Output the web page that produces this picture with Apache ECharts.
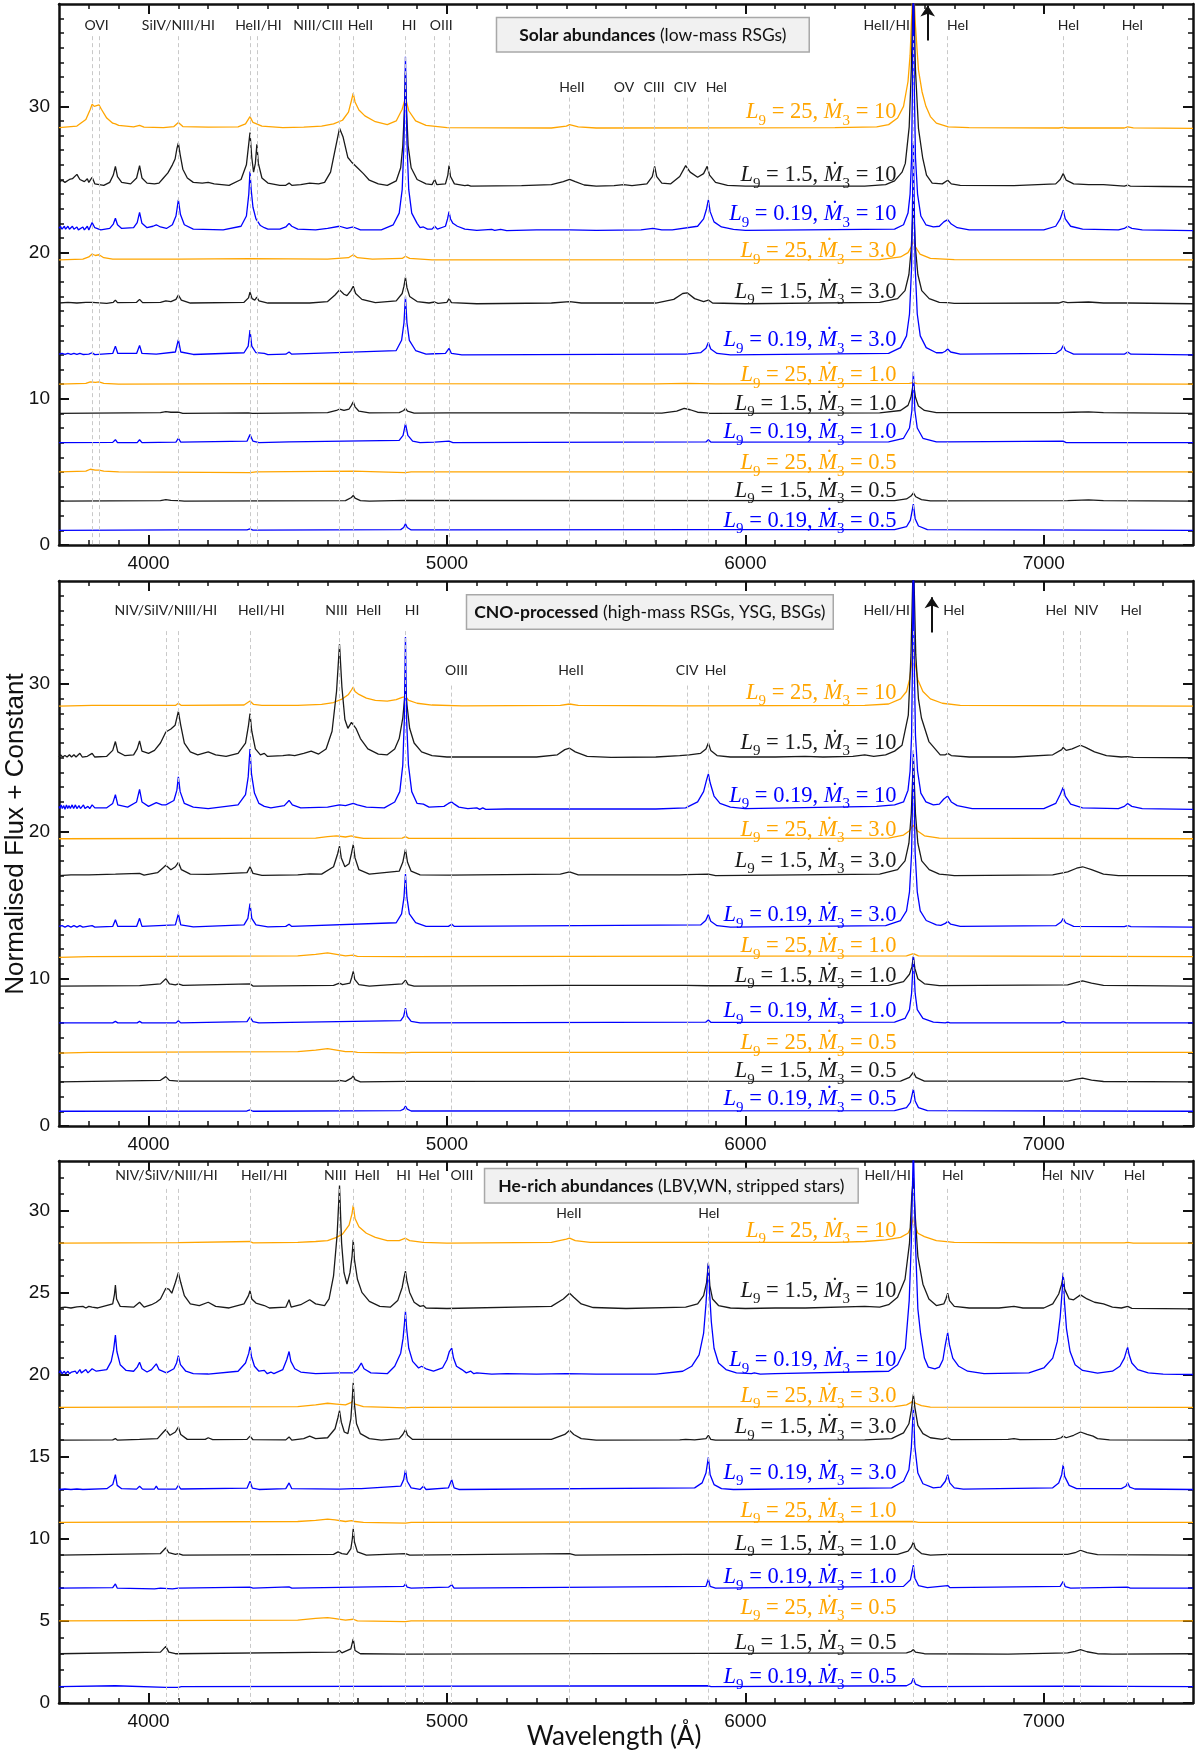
<!DOCTYPE html>
<html><head><meta charset="utf-8">
<script src="https://cdn.jsdelivr.net/npm/echarts@6/dist/echarts.min.js"></script>
<style>html,body{margin:0;padding:0;background:#fff}#c{width:1200px;height:1756px}</style>
</head><body><div id="c"></div>
<script>
// ---------- tick labels ----------
const xMajor = [4000, 5000, 6000, 7000];
const yMajor12 = [0, 10, 20, 30];
const yMajor3 = [0, 5, 10, 15, 20, 25, 30];
const L9 = ['25', '1.5', '0.19'];
const Mdot = ['10', '3.0', '1.0', '0.5'];
const colors = ['#FFA500', '#1a1a1a', '#0000FF'];

// ---------- vertical offsets (the "Constant") ----------
const baseSolar = [28.5, 24.5, 21.5, 19.5, 16.5, 13, 11, 9, 7, 5, 3, 1];
const baseCNO = [28.5, 25, 21.5, 19.5, 17, 13.5, 11.5, 9.5, 7, 5, 3, 1];
const baseHe = [28, 24, 20, 18, 16, 13, 11, 9, 7, 5, 3, 1];

// ---------- Solar abundances spectra (excess flux above offset) ----------
const solar_25_10 = [[3700,0.05],[3760,0.15],[3790,0.6],[3805,1.3],[3811,1.65],[3818,1.5],[3824,1.45],[3834,1.6],[3842,1.3],[3860,0.7],[3880,0.35],[3889,0.3],[3900,0.2],[3950,0.1],[3970,0.2],[3985,0.08],[4050,0.05],[4085,0.12],[4100,0.4],[4115,0.12],[4200,0.08],[4300,0.1],[4325,0.3],[4340,0.8],[4350,0.4],[4380,0.15],[4450,0.05],[4520,0.08],[4580,0.15],[4620,0.3],[4650,0.55],[4670,1.1],[4680,1.9],[4686,2.4],[4692,1.8],[4705,1.25],[4725,0.85],[4760,0.45],[4800,0.25],[4830,0.5],[4850,1.3],[4861,2.1],[4872,1.2],[4895,0.5],[4930,0.2],[5000,0.05],[5350,0.02],[5400,0.15],[5411,0.25],[5440,0.1],[5500,0.02],[6300,0.05],[6440,0.1],[6480,0.25],[6510,0.7],[6530,1.5],[6545,3.2],[6552,5],[6558,8],[6563,10],[6570,7],[6580,4],[6592,2.5],[6605,1.5],[6620,0.8],[6640,0.35],[6680,0.1],[6750,0.05],[7050,0.02],[7065,0.06],[7080,0.02],[7270,0.02],[7281,0.1],[7300,0.03],[7500,0]];
const solar_15_10 = [[3700,0.3],[3710,0.45],[3720,0.3],[3735,0.5],[3745,0.55],[3760,0.85],[3770,0.5],[3785,0.35],[3795,0.55],[3800,0.3],[3811,0.65],[3820,0.2],[3850,0.1],[3870,0.3],[3882,0.8],[3889,1.4],[3896,0.7],[3910,0.3],[3940,0.2],[3960,0.6],[3970,1.45],[3978,0.6],[3995,0.25],[4020,0.2],[4026,0.3],[4035,0.25],[4050,0.6],[4065,0.95],[4080,1.5],[4089,1.9],[4095,2.6],[4100,3.0],[4106,2.2],[4115,1.2],[4130,0.6],[4150,0.3],[4180,0.25],[4200,0.3],[4220,0.2],[4270,0.1],[4310,0.5],[4328,1.5],[4340,3.7],[4346,2.0],[4352,1.0],[4358,1.6],[4363,2.9],[4368,1.6],[4380,0.6],[4400,0.25],[4440,0.1],[4460,0.1],[4471,0.25],[4480,0.1],[4510,0.15],[4540,0.25],[4570,0.2],[4590,0.3],[4610,1.0],[4625,2.5],[4640,4.0],[4652,3.4],[4668,2.0],[4680,1.7],[4686,1.8],[4700,1.3],[4720,0.9],[4740,0.45],[4770,0.2],[4800,0.1],[4830,0.4],[4845,1.3],[4852,2.8],[4858,5.5],[4861,7.8],[4864,5.5],[4870,2.8],[4880,1.3],[4900,0.5],[4930,0.2],[4950,0.15],[4959,0.5],[4966,0.15],[4995,0.2],[5003,0.8],[5007,1.45],[5012,0.7],[5025,0.2],[5060,0.08],[5070,0.12],[5080,0.05],[5250,0.08],[5350,0.15],[5390,0.35],[5411,0.5],[5430,0.35],[5460,0.12],[5500,0.05],[5560,0.08],[5592,0.15],[5620,0.08],[5670,0.2],[5688,0.7],[5696,1.4],[5703,0.7],[5720,0.25],[5750,0.2],[5780,0.7],[5800,1.45],[5815,1.0],[5840,0.65],[5860,0.9],[5872,1.4],[5880,0.8],[5900,0.3],[5940,0.1],[6000,0.05],[6400,0.05],[6470,0.15],[6500,0.4],[6525,1.0],[6536,1.6],[6549,4.1],[6556,8],[6563,14],[6570,8],[6580,4],[6594,2.0],[6607,0.8],[6626,0.25],[6660,0.2],[6678,0.45],[6690,0.2],[6720,0.1],[6900,0.08],[7040,0.2],[7055,0.5],[7065,0.9],[7075,0.45],[7100,0.2],[7150,0.15],[7200,0.15],[7270,0.05],[7281,0.12],[7290,0.05],[7400,0.02],[7500,0]];
const solar_019_10 = [[3700,0.15],[3705,0.3],[3710,0.1],[3718,0.3],[3722,0.1],[3730,0.3],[3735,0.1],[3745,0.3],[3750,0.1],[3760,0.25],[3765,0.05],[3780,0.25],[3785,0.05],[3795,0.3],[3800,0.05],[3811,0.55],[3820,0.2],[3840,0.05],[3870,0.15],[3882,0.45],[3889,0.85],[3896,0.4],[3910,0.15],[3950,0.2],[3962,0.55],[3970,1.25],[3978,0.5],[3995,0.2],[4015,0.3],[4026,0.4],[4040,0.25],[4060,0.15],[4080,0.4],[4092,1.0],[4100,2.1],[4107,1.1],[4120,0.4],[4150,0.1],[4250,0.05],[4310,0.3],[4328,1.0],[4336,2.5],[4340,4.05],[4344,2.8],[4350,1.6],[4360,0.8],[4375,0.35],[4388,0.2],[4400,0.1],[4440,0.1],[4460,0.25],[4471,0.5],[4480,0.3],[4500,0.1],[4560,0.05],[4600,0.15],[4640,0.3],[4665,0.15],[4686,0.25],[4710,0.05],[4780,0.05],[4820,0.4],[4840,1.2],[4850,2.8],[4856,6],[4861,11.9],[4866,6],[4872,2.8],[4882,1.2],[4900,0.5],[4910,0.2],[4921,0.25],[4935,0.1],[4950,0.1],[4959,0.3],[4968,0.1],[4995,0.3],[5002,0.8],[5007,1.3],[5012,0.8],[5020,0.5],[5035,0.3],[5060,0.1],[5100,0.02],[5150,0.08],[5160,0.02],[5180,0.08],[5200,0],[5300,0.05],[5411,0.05],[5500,0.02],[5650,0.05],[5690,0.15],[5720,0.05],[5745,0.05],[5750,0.15],[5755,0.05],[5840,0.3],[5860,0.8],[5870,1.5],[5876,2.1],[5882,1.3],[5895,0.6],[5920,0.25],[5960,0.08],[6000,0.02],[6500,0.1],[6530,0.4],[6545,1.2],[6552,2.5],[6557,5],[6560,10],[6563,20],[6566,10],[6570,5],[6577,2.5],[6588,1.0],[6605,0.4],[6630,0.25],[6650,0.3],[6665,0.6],[6678,0.75],[6690,0.45],[6710,0.2],[6750,0.05],[7000,0.05],[7040,0.3],[7055,0.8],[7065,1.4],[7072,0.8],[7090,0.3],[7130,0.1],[7250,0.05],[7270,0.15],[7281,0.3],[7295,0.15],[7330,0.05],[7500,0]];
const solar_25_3 = [[3700,0],[3780,0.05],[3800,0.2],[3811,0.4],[3822,0.3],[3834,0.35],[3850,0.15],[3880,0.05],[3970,0.05],[4100,0.05],[4340,0.08],[4600,0.05],[4670,0.15],[4686,0.35],[4700,0.15],[4750,0.05],[4850,0.1],[4861,0.25],[4875,0.1],[4950,0],[6450,0.02],[6520,0.2],[6545,0.5],[6556,0.9],[6563,1.3],[6570,0.9],[6585,0.4],[6620,0.1],[6700,0.02],[7500,0]];
const solar_15_3 = [[3700,0.05],[3730,0.1],[3760,0.05],[3790,0.1],[3811,0.1],[3860,0.03],[3882,0.1],[3889,0.25],[3896,0.08],[3960,0.1],[3970,0.3],[3980,0.08],[4040,0.1],[4058,0.2],[4075,0.15],[4092,0.3],[4100,0.6],[4110,0.25],[4140,0.05],[4320,0.1],[4335,0.4],[4340,0.8],[4347,0.35],[4356,0.25],[4363,0.45],[4370,0.2],[4400,0.05],[4540,0.05],[4600,0.15],[4625,0.6],[4640,0.95],[4655,0.65],[4665,0.55],[4678,0.9],[4686,1.2],[4694,0.7],[4715,0.3],[4760,0.08],[4830,0.2],[4850,0.7],[4856,1.2],[4861,1.8],[4866,1.1],[4875,0.5],[4900,0.15],[4940,0.05],[4959,0.12],[4970,0.03],[5000,0.1],[5007,0.35],[5015,0.08],[5100,0],[5350,0.05],[5411,0.15],[5450,0.05],[5700,0.05],[5760,0.3],[5790,0.7],[5805,0.75],[5830,0.35],[5860,0.15],[5876,0.25],[5890,0.05],[6000,0],[6450,0.1],[6510,0.35],[6535,0.9],[6548,2.0],[6556,3.8],[6563,7],[6570,3.8],[6578,2.0],[6591,0.9],[6616,0.35],[6650,0.1],[6678,0.07],[6700,0.02],[7050,0.05],[7065,0.15],[7080,0.08],[7150,0.12],[7200,0.05],[7281,0.05],[7500,0]];
const solar_019_3 = [[3700,0.05],[3710,0.1],[3720,0.03],[3730,0.1],[3740,0.03],[3750,0.1],[3760,0.03],[3770,0.1],[3780,0.03],[3800,0.05],[3811,0.15],[3820,0.02],[3880,0.1],[3889,0.6],[3897,0.1],[3960,0.1],[3970,0.65],[3978,0.1],[4026,0.05],[4090,0.2],[4100,1.05],[4108,0.2],[4150,0.03],[4320,0.15],[4334,0.6],[4340,1.7],[4346,0.6],[4360,0.15],[4388,0.1],[4400,0.02],[4460,0.05],[4471,0.2],[4480,0.05],[4830,0.3],[4848,1.0],[4856,2.2],[4861,4.0],[4866,2.2],[4874,1.0],[4895,0.3],[4930,0.05],[4959,0.08],[4995,0.1],[5007,0.45],[5015,0.1],[5050,0],[5760,0.05],[5800,0.05],[5850,0.15],[5868,0.45],[5876,0.85],[5884,0.4],[5905,0.1],[5950,0],[6480,0.1],[6520,0.5],[6540,1.3],[6550,2.8],[6557,6],[6563,14.5],[6569,6],[6576,2.8],[6586,1.3],[6606,0.5],[6640,0.15],[6660,0.15],[6670,0.25],[6678,0.4],[6688,0.2],[6720,0.05],[7040,0.1],[7058,0.35],[7065,0.65],[7073,0.3],[7100,0.05],[7270,0.05],[7281,0.2],[7292,0.05],[7500,0]];
const solar_25_1 = [[3700,0],[3790,0.05],[3805,0.15],[3811,0.2],[3822,0.12],[3834,0.15],[3850,0.05],[3900,0],[4680,0.05],[4686,0.1],[4700,0.03],[5700,0.02],[5800,0.05],[5900,0.02],[6550,0.05],[6563,0.1],[6575,0.03],[7500,0]];
const solar_15_1 = [[3700,0],[4040,0.05],[4058,0.12],[4075,0.08],[4100,0.08],[4115,0],[4335,0.03],[4340,0.07],[4348,0],[4600,0.05],[4630,0.2],[4640,0.3],[4655,0.2],[4672,0.3],[4680,0.55],[4686,0.8],[4692,0.45],[4705,0.15],[4740,0.03],[4840,0.05],[4855,0.2],[4861,0.35],[4868,0.15],[4890,0.02],[5007,0.04],[5411,0.03],[5720,0.02],[5770,0.15],[5795,0.35],[5815,0.25],[5840,0.08],[5870,0.03],[5880,0],[6450,0.03],[6520,0.2],[6545,0.55],[6555,1.1],[6563,2.1],[6570,1.1],[6580,0.5],[6600,0.2],[6640,0.05],[7050,0.05],[7100,0.08],[7150,0.1],[7200,0.05],[7500,0]];
const solar_019_1 = [[3700,0],[3880,0.02],[3889,0.2],[3896,0],[3962,0],[3970,0.2],[3978,0],[4092,0.03],[4100,0.3],[4108,0.03],[4330,0.1],[4340,0.55],[4350,0.1],[4370,0],[4471,0.05],[4840,0.15],[4853,0.5],[4861,1.3],[4869,0.5],[4885,0.1],[4910,0],[4959,0.03],[5007,0.1],[5020,0],[5868,0.05],[5876,0.2],[5885,0.03],[6480,0.05],[6530,0.3],[6550,1.0],[6558,2.2],[6563,4.85],[6568,2.2],[6576,1.0],[6595,0.3],[6640,0.05],[6678,0.05],[7065,0.1],[7075,0],[7500,0]];
const solar_25_05 = [[3700,0],[3790,0.05],[3805,0.18],[3811,0.23],[3822,0.12],[3834,0.12],[3850,0.05],[3900,0],[4340,-0.05],[4360,0],[4686,0.05],[4861,-0.05],[4880,0],[7500,0]];
const solar_15_05 = [[3700,0],[4040,0.03],[4058,0.1],[4075,0.05],[4100,0.03],[4120,0],[4660,0.03],[4680,0.25],[4686,0.4],[4692,0.2],[4710,0.03],[4740,0],[4861,0.05],[6500,0.03],[6540,0.15],[6555,0.35],[6563,0.57],[6571,0.3],[6590,0.1],[6620,0.02],[7080,0.03],[7150,0.08],[7200,0.03],[7500,0]];
const solar_019_05 = [[3700,0],[4100,0.03],[4330,0.03],[4340,0.1],[4350,0.02],[4845,0.05],[4855,0.2],[4861,0.45],[4867,0.2],[4880,0.03],[5007,0.03],[5876,0.05],[6500,0.05],[6540,0.25],[6553,0.7],[6563,1.8],[6569,0.8],[6580,0.3],[6610,0.05],[7500,0]];

// ---------- CNO-processed spectra ----------
const cno_25_10 = [[3700,0],[3811,0.05],[3890,0.05],[3970,0.05],[4090,0.05],[4100,0.2],[4110,0.05],[4320,0.08],[4340,0.35],[4352,0.12],[4380,0.05],[4500,0.05],[4580,0.12],[4620,0.25],[4650,0.5],[4670,0.8],[4680,1.1],[4686,1.3],[4692,1.0],[4705,0.8],[4730,0.55],[4760,0.4],[4800,0.35],[4830,0.45],[4850,0.6],[4861,0.65],[4872,0.4],[4900,0.2],[4950,0.08],[5050,0.02],[5380,0.05],[5411,0.15],[5440,0.05],[5800,0.02],[6400,0.05],[6480,0.15],[6520,0.5],[6540,1.0],[6550,1.8],[6558,3.0],[6563,4.0],[6568,3.0],[6578,1.8],[6595,1.0],[6620,0.5],[6660,0.2],[6720,0.05],[7500,0]];
const cno_15_10 = [[3700,0.05],[3705,0.2],[3712,0.05],[3720,0.15],[3727,0.05],[3735,0.2],[3742,0.05],[3750,0.2],[3757,0.05],[3770,0.3],[3778,0.05],[3795,0.1],[3811,0.3],[3820,0.05],[3860,0.1],[3880,0.5],[3889,1.1],[3897,0.4],[3920,0.15],[3950,0.2],[3962,0.6],[3970,1.15],[3978,0.45],[4000,0.3],[4020,0.5],[4040,1.0],[4058,1.75],[4075,1.95],[4089,2.2],[4100,3.15],[4108,2.2],[4120,1.0],[4140,0.4],[4165,0.2],[4200,0.4],[4225,0.2],[4260,0.1],[4300,0.3],[4325,1.0],[4335,2.2],[4340,3.0],[4346,1.8],[4358,0.6],[4375,0.2],[4388,0.3],[4398,0.1],[4450,0.15],[4471,0.2],[4490,0.15],[4520,0.3],[4545,0.45],[4570,0.25],[4595,0.6],[4615,1.8],[4630,4.5],[4640,7.7],[4648,4.8],[4658,2.6],[4668,2.0],[4680,2.4],[4686,2.5],[4695,2.0],[4710,1.3],[4735,0.6],[4770,0.25],[4800,0.2],[4825,0.6],[4840,1.3],[4852,2.7],[4858,4.0],[4861,5.0],[4866,3.6],[4875,2.0],[4890,1.0],[4915,0.4],[4950,0.15],[5000,0.05],[5300,0.05],[5370,0.2],[5395,0.55],[5411,0.65],[5430,0.4],[5470,0.1],[5550,0.03],[5700,0.05],[5780,0.15],[5812,0.2],[5850,0.3],[5868,0.6],[5876,1.0],[5884,0.5],[5905,0.15],[5950,0.05],[6100,0.05],[6200,0.1],[6260,0.05],[6360,0.1],[6400,0.2],[6430,0.1],[6470,0.2],[6500,0.45],[6525,0.85],[6546,2.9],[6555,7],[6563,14],[6571,7],[6580,4],[6590,2.7],[6615,1.1],[6653,0.2],[6670,0.2],[6678,0.3],[6690,0.15],[6750,0.05],[6900,0.05],[7030,0.2],[7060,0.55],[7065,0.7],[7075,0.5],[7095,0.6],[7123,0.85],[7140,0.7],[7170,0.4],[7210,0.15],[7260,0.05],[7281,0.08],[7300,0.02],[7500,0]];
const cno_019_10 = [[3700,0.2],[3703,0.05],[3707,0.3],[3711,0.05],[3716,0.25],[3720,0],[3725,0.3],[3729,0.05],[3734,0.25],[3738,0.05],[3744,0.3],[3749,0.05],[3755,0.3],[3760,0.05],[3767,0.25],[3772,0.05],[3782,0.3],[3787,0.05],[3797,0.2],[3803,0.05],[3811,0.3],[3820,0.1],[3860,0.1],[3880,0.4],[3889,1.0],[3897,0.3],[3930,0.15],[3960,0.5],[3970,1.35],[3978,0.5],[4000,0.2],[4026,0.45],[4045,0.3],[4058,0.3],[4085,0.6],[4095,1.3],[4100,2.2],[4106,1.2],[4120,0.4],[4150,0.15],[4200,0.05],[4300,0.3],[4325,1.0],[4334,2.2],[4340,4.1],[4345,2.4],[4355,1.1],[4370,0.4],[4388,0.2],[4410,0.1],[4455,0.25],[4471,0.6],[4482,0.3],[4510,0.1],[4600,0.15],[4640,0.3],[4660,0.25],[4686,0.4],[4700,0.3],[4730,0.15],[4790,0.1],[4825,0.5],[4842,1.2],[4852,3.0],[4857,6],[4861,11.7],[4865,6],[4871,3.0],[4882,1.2],[4900,0.4],[4921,0.35],[4940,0.15],[4990,0.2],[5005,0.4],[5016,0.5],[5025,0.35],[5040,0.15],[5070,0.05],[5100,0.1],[5110,0],[5120,0.1],[5130,0],[5200,0.02],[5411,0.02],[5700,0.02],[5800,0.1],[5840,0.5],[5860,1.2],[5870,2.0],[5876,2.4],[5882,1.8],[5895,0.9],[5915,0.4],[5950,0.15],[6000,0.05],[6440,0.2],[6500,0.3],[6530,0.5],[6545,1.3],[6552,2.6],[6557,5],[6560,10],[6563,20],[6566,10],[6570,5],[6577,2.6],[6588,1.1],[6605,0.5],[6630,0.3],[6650,0.35],[6665,0.7],[6678,0.9],[6690,0.5],[6710,0.25],[6760,0.05],[7000,0.05],[7040,0.4],[7055,1.0],[7065,1.5],[7072,0.9],[7090,0.35],[7130,0.1],[7250,0.05],[7270,0.2],[7281,0.4],[7295,0.2],[7330,0.05],[7500,0]];
const cno_25_3 = [[3700,0],[4560,0.05],[4600,0.15],[4630,0.2],[4660,0.12],[4680,0.2],[4686,0.3],[4692,0.12],[4720,0.03],[4850,0.05],[4861,0.15],[4872,0.03],[6480,0.05],[6530,0.25],[6550,0.55],[6563,0.95],[6576,0.55],[6600,0.2],[6650,0.05],[7500,0]];
const cno_15_3 = [[3700,0],[3740,0.05],[3760,0.05],[3800,0.05],[3889,0.1],[3970,0.15],[3985,0.03],[4030,0.2],[4050,0.55],[4058,0.7],[4075,0.4],[4090,0.6],[4100,0.9],[4110,0.4],[4140,0.1],[4200,0.08],[4330,0.2],[4340,0.6],[4350,0.15],[4380,0.02],[4500,0.05],[4540,0.12],[4580,0.1],[4620,0.6],[4634,1.5],[4640,2.0],[4646,1.2],[4658,0.6],[4672,0.8],[4680,1.5],[4686,2.1],[4692,1.2],[4705,0.4],[4740,0.1],[4840,0.3],[4852,0.9],[4861,1.8],[4868,0.9],[4880,0.3],[4910,0.05],[5007,0.03],[5380,0.1],[5411,0.25],[5440,0.05],[5780,0.05],[5800,0.07],[5876,0.1],[5900,0],[6450,0.1],[6510,0.4],[6535,1.0],[6548,2.2],[6556,4.2],[6563,8],[6570,4.2],[6578,2.2],[6591,1.0],[6616,0.4],[6650,0.1],[6678,0.05],[6700,0],[7030,0.05],[7080,0.25],[7110,0.5],[7130,0.6],[7160,0.4],[7200,0.1],[7250,0],[7500,0]];
const cno_019_3 = [[3700,0.05],[3710,0.1],[3720,0],[3730,0.1],[3740,0],[3750,0.1],[3760,0],[3770,0.1],[3780,0],[3811,0.1],[3820,0],[3880,0.05],[3889,0.5],[3897,0.05],[3960,0.05],[3970,0.6],[3978,0.05],[4090,0.15],[4100,0.9],[4108,0.15],[4150,0.02],[4320,0.15],[4333,0.6],[4340,1.6],[4346,0.6],[4360,0.15],[4400,0.02],[4460,0.05],[4471,0.2],[4480,0.05],[4830,0.3],[4848,0.9],[4856,2.0],[4861,3.6],[4866,2.0],[4874,0.9],[4895,0.3],[4930,0.05],[5005,0.05],[5016,0.2],[5025,0.05],[5850,0.15],[5867,0.45],[5876,0.85],[5884,0.4],[5905,0.1],[5950,0],[6470,0.1],[6520,0.45],[6540,1.1],[6550,2.4],[6557,5],[6563,12],[6569,5],[6576,2.4],[6586,1.1],[6606,0.45],[6640,0.15],[6655,0.12],[6670,0.25],[6678,0.4],[6688,0.2],[6720,0.05],[7040,0.1],[7058,0.35],[7065,0.6],[7073,0.3],[7100,0.05],[7270,0.03],[7281,0.1],[7292,0.03],[7500,0]];
const cno_25_1 = [[3700,-0.05],[3800,0],[4500,0.05],[4560,0.15],[4600,0.25],[4630,0.15],[4660,0.05],[4686,0.1],[4700,0.02],[4861,0],[6540,0.05],[6563,0.2],[6580,0.05],[7500,0]];
const cno_15_1 = [[3700,0],[3970,0.03],[4040,0.15],[4058,0.5],[4070,0.15],[4090,0.08],[4100,0.15],[4115,0.05],[4340,0.15],[4350,0],[4620,0.05],[4640,0.2],[4650,0.1],[4675,0.2],[4681,0.6],[4686,1.0],[4691,0.45],[4705,0.1],[4740,0],[4850,0.15],[4861,0.4],[4870,0.1],[4890,0],[5411,0.05],[5800,0.05],[5876,0.02],[6480,0.05],[6530,0.3],[6550,0.8],[6558,1.3],[6563,2.0],[6568,1.2],[6578,0.5],[6600,0.15],[6650,0.03],[7080,0.08],[7110,0.25],[7130,0.35],[7160,0.2],[7200,0.05],[7500,0]];
const cno_019_1 = [[3700,0],[3880,0],[3889,0.1],[3897,0],[3962,0],[3970,0.1],[3978,0],[4092,0],[4100,0.15],[4108,0],[4330,0.08],[4340,0.4],[4350,0.08],[4370,0],[4845,0.15],[4855,0.45],[4861,1.0],[4867,0.45],[4880,0.1],[4910,0],[5867,0.05],[5876,0.2],[5885,0.03],[6500,0.05],[6535,0.3],[6550,0.9],[6557,2.0],[6563,4.5],[6569,2.0],[6576,0.9],[6595,0.3],[6630,0.05],[6670,0],[6678,0.05],[6686,0],[7055,0],[7065,0.1],[7075,0],[7500,0]];
const cno_25_05 = [[3700,-0.05],[3800,0],[4500,0.05],[4560,0.15],[4600,0.25],[4630,0.15],[4660,0.05],[4686,0.05],[4700,0],[4861,-0.03],[4880,0],[7500,0]];
const cno_15_05 = [[3700,0],[4040,0.1],[4058,0.35],[4070,0.1],[4100,0.05],[4630,0.05],[4640,0.1],[4660,0.03],[4680,0.25],[4686,0.4],[4692,0.15],[4710,0],[4861,0.03],[6520,0.05],[6550,0.3],[6563,0.65],[6572,0.3],[6600,0.05],[7080,0.05],[7110,0.18],[7130,0.25],[7160,0.12],[7200,0.02],[7500,0]];
const cno_019_05 = [[3700,0],[4330,0.02],[4340,0.1],[4350,0],[4845,0.05],[4855,0.15],[4861,0.35],[4867,0.15],[4880,0.02],[6500,0.05],[6540,0.25],[6553,0.6],[6563,1.5],[6569,0.7],[6580,0.25],[6610,0.05],[7500,0]];

// ---------- He-rich spectra ----------
const he_25_10 = [[3700,0],[4100,0.03],[4340,0.1],[4350,0.02],[4500,0.05],[4560,0.1],[4600,0.15],[4630,0.35],[4650,0.55],[4672,1.1],[4682,1.8],[4686,2.3],[4692,1.5],[4705,1.0],[4730,0.6],[4760,0.35],[4800,0.15],[4840,0.15],[4861,0.3],[4875,0.15],[4920,0.05],[5000,0],[5350,0.05],[5400,0.25],[5411,0.3],[5430,0.15],[5480,0.05],[6300,0.05],[6400,0.1],[6470,0.2],[6520,0.35],[6545,0.6],[6556,1.0],[6563,1.6],[6568,1.1],[6578,0.6],[6600,0.4],[6640,0.15],[6700,0.05],[7000,0.02],[7270,0.02],[7281,0.05],[7300,0],[7500,0]];
const he_15_10 = [[3700,0.05],[3720,0.1],[3740,0.05],[3760,0.12],[3780,0.15],[3790,0.05],[3800,0.15],[3811,0.1],[3830,0.05],[3880,0.3],[3886,0.9],[3889,1.45],[3893,0.6],[3905,0.15],[3950,0.1],[3970,0.4],[3985,0.1],[4010,0.25],[4026,0.4],[4040,0.6],[4058,1.25],[4068,1.2],[4078,0.95],[4090,1.6],[4100,2.2],[4108,1.6],[4120,0.8],[4140,0.3],[4170,0.2],[4200,0.4],[4225,0.15],[4270,0.05],[4320,0.3],[4335,0.8],[4340,1.1],[4346,0.6],[4360,0.35],[4388,0.2],[4405,0.05],[4460,0.1],[4471,0.55],[4478,0.1],[4510,0.25],[4540,0.55],[4560,0.3],[4590,0.2],[4605,0.6],[4620,2.0],[4632,4.5],[4640,7.5],[4647,4.0],[4655,2.2],[4665,1.5],[4675,2.2],[4682,3.2],[4686,4.2],[4690,3.0],[4700,1.8],[4715,1.0],[4740,0.45],[4775,0.15],[4810,0.1],[4835,0.5],[4850,1.3],[4856,1.9],[4861,2.3],[4866,1.7],[4875,1.0],[4890,0.4],[4910,0.15],[4921,0.2],[4930,0.05],[5000,0.02],[5350,0.15],[5390,0.6],[5411,0.95],[5425,0.7],[5450,0.3],[5490,0.08],[5600,0.02],[5800,0.1],[5840,0.3],[5860,0.8],[5870,1.6],[5876,2.75],[5881,1.4],[5890,0.6],[5910,0.2],[5950,0.05],[6000,0.02],[6100,0.05],[6200,0.05],[6400,0.15],[6450,0.1],[6480,0.25],[6510,0.7],[6535,1.8],[6550,4],[6558,7],[6563,8.0],[6568,6],[6578,3.2],[6595,1.5],[6615,0.6],[6640,0.2],[6665,0.3],[6672,0.6],[6678,0.95],[6684,0.5],[6700,0.15],[6750,0.05],[6850,0.05],[6900,0.15],[6930,0.05],[7000,0.05],[7030,0.3],[7050,0.9],[7060,1.5],[7065,2.0],[7070,1.2],[7085,0.6],[7100,0.55],[7123,0.85],[7145,0.6],[7170,0.4],[7200,0.3],[7230,0.1],[7260,0.05],[7281,0.15],[7295,0.03],[7500,0]];
const he_019_10 = [[3700,0.1],[3705,0.25],[3710,0.05],[3718,0.2],[3722,0.05],[3730,0.2],[3735,0.05],[3742,0.15],[3748,0.05],[3755,0.2],[3760,0.05],[3770,0.3],[3775,0.1],[3790,0.3],[3797,0.1],[3811,0.35],[3825,0.2],[3860,0.3],[3875,0.8],[3883,1.5],[3889,2.4],[3894,1.4],[3905,0.6],[3925,0.25],[3950,0.2],[3962,0.45],[3970,0.75],[3978,0.35],[3995,0.15],[4010,0.3],[4026,0.65],[4035,0.3],[4060,0.1],[4085,0.35],[4094,0.7],[4100,1.15],[4107,0.6],[4125,0.2],[4150,0.05],[4200,0.03],[4300,0.2],[4325,0.7],[4336,1.3],[4340,1.7],[4345,1.1],[4355,0.5],[4370,0.2],[4388,0.25],[4398,0.05],[4410,0.15],[4420,0.05],[4450,0.3],[4463,0.9],[4471,1.4],[4477,0.8],[4490,0.35],[4510,0.15],[4560,0.05],[4640,0.1],[4686,0.1],[4700,0.3],[4713,0.7],[4722,0.35],[4745,0.1],[4800,0.05],[4825,0.5],[4845,1.3],[4853,2.2],[4858,3.2],[4861,3.85],[4865,2.8],[4872,1.6],[4885,0.8],[4905,0.4],[4915,0.5],[4921,0.6],[4930,0.35],[4955,0.2],[4985,0.4],[5000,0.9],[5008,1.4],[5016,1.6],[5022,1.0],[5032,0.5],[5050,0.3],[5065,0.1],[5080,0.2],[5090,0.05],[5100,0.1],[5150,0.02],[5200,0.05],[5300,0.02],[5400,0.05],[5500,0.02],[5700,0.02],[5790,0.2],[5820,0.5],[5845,1.2],[5860,2.5],[5868,4.3],[5873,5.8],[5876,6.8],[5880,5.0],[5886,3.2],[5895,1.6],[5910,0.7],[5935,0.3],[5970,0.1],[6020,0.05],[6030,0.1],[6050,0.02],[6100,0.05],[6480,0.2],[6510,0.6],[6536,1.6],[6549,4.5],[6556,8],[6563,14],[6570,8],[6578,4],[6587,2.5],[6600,1.0],[6613,0.45],[6635,0.35],[6650,0.45],[6662,0.9],[6670,1.8],[6678,2.55],[6684,1.8],[6695,1.0],[6715,0.5],[6745,0.2],[6800,0.05],[6950,0.1],[7000,0.4],[7030,1.0],[7045,2.0],[7055,3.5],[7062,5.2],[7065,6.2],[7069,4.5],[7076,2.8],[7088,1.4],[7105,0.6],[7130,0.25],[7180,0.08],[7230,0.2],[7255,0.5],[7270,1.0],[7278,1.5],[7281,1.65],[7286,1.2],[7295,0.7],[7315,0.3],[7350,0.1],[7400,0.02],[7500,0]];
const he_25_3 = [[3700,0],[4500,0.05],[4560,0.15],[4600,0.25],[4630,0.2],[4660,0.15],[4680,0.3],[4686,0.45],[4692,0.2],[4720,0.05],[4861,-0.03],[4880,0],[6500,0.05],[6540,0.15],[6556,0.3],[6563,0.45],[6570,0.25],[6590,0.1],[6620,0.02],[7500,0]];
const he_15_3 = [[3700,0],[3880,0.02],[3889,0.1],[3896,0],[3970,0.05],[4030,0.1],[4050,0.5],[4058,0.65],[4072,0.3],[4090,0.5],[4100,0.8],[4108,0.35],[4130,0.05],[4190,0.05],[4200,0.15],[4215,0.03],[4330,0.05],[4340,0.25],[4350,0.03],[4460,0.02],[4471,0.2],[4480,0],[4520,0.1],[4540,0.25],[4560,0.1],[4600,0.15],[4625,0.7],[4635,1.4],[4640,1.8],[4646,1.1],[4656,0.5],[4668,0.4],[4678,1.3],[4683,2.6],[4686,3.5],[4690,2.2],[4697,1.0],[4710,0.4],[4740,0.1],[4780,0],[4840,0.1],[4852,0.35],[4861,0.65],[4868,0.3],[4885,0.05],[5350,0.05],[5395,0.35],[5411,0.6],[5425,0.35],[5450,0.1],[5500,0],[5780,0.02],[5800,0.05],[5830,0.02],[5868,0.1],[5876,0.3],[5884,0.05],[5900,0],[6400,0.02],[6490,0.1],[6530,0.45],[6548,1.0],[6556,1.8],[6563,2.8],[6568,2.0],[6578,0.9],[6595,0.4],[6620,0.15],[6660,0.05],[6678,0.15],[6690,0.03],[6880,0.05],[6900,0.1],[6920,0.03],[7040,0.05],[7058,0.15],[7065,0.25],[7075,0.15],[7100,0.3],[7123,0.5],[7145,0.35],[7165,0.25],[7180,0.1],[7220,0.02],[7500,0]];
const he_019_3 = [[3700,0],[3720,0.03],[3740,0],[3760,0.03],[3780,0],[3860,0.05],[3880,0.3],[3889,0.9],[3895,0.25],[3910,0.05],[3960,0.02],[3970,0.2],[3980,0.02],[4020,0.03],[4026,0.2],[4032,0.02],[4092,0.03],[4100,0.25],[4108,0.03],[4330,0.08],[4340,0.5],[4348,0.08],[4370,0],[4460,0.05],[4471,0.4],[4480,0.05],[4640,0.02],[4686,0.05],[4713,0.05],[4845,0.2],[4855,0.6],[4861,1.2],[4867,0.5],[4880,0.1],[4910,0],[4921,0.2],[4930,0],[5005,0.1],[5016,0.6],[5024,0.1],[5040,0],[5830,0.1],[5855,0.4],[5868,1.0],[5876,1.95],[5882,0.9],[5895,0.3],[5920,0.05],[5960,0],[6490,0.1],[6530,0.5],[6548,1.2],[6556,2.5],[6563,5.0],[6568,2.6],[6578,1.0],[6595,0.35],[6630,0.1],[6655,0.15],[6670,0.5],[6678,0.9],[6685,0.4],[6700,0.1],[6730,0.02],[7030,0.1],[7050,0.4],[7060,0.9],[7065,1.5],[7070,0.8],[7085,0.25],[7110,0.05],[7260,0.05],[7275,0.2],[7281,0.4],[7288,0.15],[7305,0.03],[7500,0]];
const he_25_1 = [[3700,0],[4500,0.05],[4560,0.12],[4600,0.2],[4625,0.15],[4660,0.05],[4680,0.1],[4686,0.15],[4692,0.05],[4720,0],[4861,-0.05],[4880,0],[6563,0.05],[6580,0],[7500,0]];
const he_15_1 = [[3700,0],[4040,0.1],[4058,0.45],[4068,0.15],[4090,0.05],[4100,0.1],[4115,0],[4620,0.05],[4635,0.2],[4640,0.3],[4648,0.1],[4665,0.05],[4678,0.4],[4683,1.0],[4686,1.6],[4690,0.8],[4700,0.2],[4730,0],[4861,0.1],[4875,0],[5411,0.1],[5430,0],[5800,0.05],[6510,0.05],[6545,0.25],[6556,0.5],[6563,0.8],[6570,0.4],[6590,0.1],[6620,0],[6680,0.05],[7080,0.05],[7105,0.15],[7123,0.3],[7145,0.15],[7180,0.03],[7500,0]];
const he_019_1 = [[3700,0],[3880,0.02],[3889,0.25],[3895,0],[4020,-0.05],[4040,0],[4080,-0.05],[4100,0],[4340,0.05],[4350,0],[4471,0.07],[4480,0],[4855,0.1],[4861,0.25],[4867,0.05],[4880,0],[5005,0.05],[5016,0.2],[5024,0],[5868,0.1],[5876,0.55],[5882,0.1],[5900,0],[6530,0.1],[6553,0.5],[6563,1.4],[6568,0.6],[6580,0.15],[6610,0.02],[6678,0.15],[6686,0.02],[7055,0.1],[7065,0.4],[7072,0.08],[7090,0],[7281,0.05],[7290,0],[7500,0]];
const he_25_05 = [[3700,0],[4500,0.05],[4560,0.15],[4600,0.2],[4620,0.15],[4660,0.05],[4686,0.1],[4700,0],[4861,-0.05],[4880,0],[7500,0]];
const he_15_05 = [[3700,0],[4040,0.1],[4058,0.45],[4068,0.1],[4090,0],[4630,0.1],[4640,0.2],[4648,0.05],[4678,0.3],[4686,0.9],[4692,0.2],[4710,0],[4861,-0.03],[6540,0.05],[6556,0.15],[6563,0.25],[6570,0.1],[6600,0],[6880,-0.03],[7080,0.05],[7105,0.15],[7123,0.25],[7145,0.12],[7180,0],[7230,-0.03],[7500,0]];
const he_019_05 = [[3700,0],[3889,0.05],[3895,0],[4058,-0.05],[4100,-0.05],[4110,0],[5876,0.05],[5885,0],[6540,0.05],[6556,0.2],[6563,0.5],[6570,0.15],[6590,0],[7065,0.03],[7500,0]];

// ---------- line identifications ----------
const idsSolar = [['OVI',3826,1],['SiIV/NIII/HI',4100,1],['HeII/HI',4368,1],['NIII/CIII',4568,1],['HeII',4710,1],['HI',4873,1],['OIII',4981,1],['HeII/HI',6474,1],['HeI',6712,1],['HeI',7083,1],['HeI',7297,1],
  ['HeII',5419,2],['OV',5593,2],['CIII',5694,2],['CIV',5798,2],['HeI',5903,2]];
const dashSolar = [[3811,1],[3834,1],[4100,1],[4340,1],[4363,1],[4640,1],[4686,1],[4861,1],[4959,1],[5007,1],[6563,1],[6678,1],[7065,1],[7281,1],[5411,2],[5592,2],[5696,2],[5806,2],[5876,2]];
const idsCNO = [['NIV/SiIV/NIII/HI',4058,1],['HeII/HI',4378,1],['NIII',4630,1],['HeII',4738,1],['HI',4883,1],['HeII/HI',6474,1],['HeI',6699,1],['HeI',7042,1],['NIV',7142,1],['HeI',7293,1],
  ['OIII',5032,2],['HeII',5416,2],['CIV',5805,2],['HeI',5900,2]];
const dashCNO = [[4058,1],[4100,1],[4340,1],[4640,1],[4686,1],[4861,1],[6563,1],[6678,1],[7065,1],[7123,1],[7281,1],[5016,2],[5411,2],[5806,2],[5876,2]];
const idsHe = [['NIV/SiIV/NIII/HI',4060,1],['HeII/HI',4388,1],['NIII',4626,1],['HeII',4733,1],['HI',4855,1],['HeI',4940,1],['OIII',5050,1],['HeII/HI',6477,1],['HeI',6695,1],['HeI',7029,1],['NIV',7128,1],['HeI',7304,1],
  ['HeII',5409,2],['HeI',5878,2]];
const dashHe = [[4058,1],[4100,1],[4340,1],[4640,1],[4686,1],[4861,1],[4921,1],[5016,1],[6563,1],[6678,1],[7065,1],[7123,1],[7281,1],[5411,2],[5876,2]];

const panelTitles = [['Solar abundances', ' (low-mass RSGs)'], ['CNO-processed', ' (high-mass RSGs, YSG, BSGs)'], ['He-rich abundances', ' (LBV,WN, stripped stars)']];

// ---------- layout (positions / styles, not data) ----------
const grids = [
  {left: 59, right: 7, top: 4, height: 541},
  {left: 59, right: 7, top: 581, height: 545},
  {left: 59, right: 7, top: 1161, height: 542}
];
const yMax = [37, 37, 33];
const labelY = [
  [29.6, 25.3, 22.6, 20.1, 17.3, 14.0, 11.6, 9.65, 7.7, 5.6, 3.7, 1.64],
  [29.4, 26.0, 22.4, 20.1, 18.0, 14.3, 12.2, 10.2, 7.8, 5.6, 3.7, 1.8],
  [28.75, 25.1, 20.85, 18.7, 16.8, 14.0, 11.7, 9.7, 7.66, 5.8, 3.65, 1.6]
];
const labelX = 6508;
const idRowY = [[35.5, 31.3], [35.0, 30.9], [32.1, 29.8]];
const dashTop = [[34.8, 30.6], [33.6, 29.9], [31.3, 29.0]];
const boxPos = [[5690, 34.9], [5680, 34.9], [5752, 31.5]];
const boxPadX = [22, 7, 13];
const arrows = [[6611, 34.5, 36.9], [6625, 33.5, 35.9], null];

const spectra = [
  [solar_25_10, solar_15_10, solar_019_10, solar_25_3, solar_15_3, solar_019_3, solar_25_1, solar_15_1, solar_019_1, solar_25_05, solar_15_05, solar_019_05],
  [cno_25_10, cno_15_10, cno_019_10, cno_25_3, cno_15_3, cno_019_3, cno_25_1, cno_15_1, cno_019_1, cno_25_05, cno_15_05, cno_019_05],
  [he_25_10, he_15_10, he_019_10, he_25_3, he_15_3, he_019_3, he_25_1, he_15_1, he_019_1, he_25_05, he_15_05, he_019_05]
];
const bases = [baseSolar, baseCNO, baseHe];
const ids = [idsSolar, idsCNO, idsHe];
const dashes = [dashSolar, dashCNO, dashHe];

const xMinor = [];
for (let v = 3800; v <= 7400; v += 100) if (v % 1000 !== 0) xMinor.push(v);
function yMinorFor(p) {
  const out = [];
  const step = p === 2 ? 5 : 10;
  for (let v = 1; v < yMax[p]; v++) if (v % step !== 0) out.push(v);
  return out;
}

const AX = '#111';
const plain = v => String(v);
const xAxes = [], yAxes = [];
grids.forEach((g, p) => {
  const base = {gridIndex: p, type: 'value', min: 3700, max: 7500, splitLine: {show: false}};
  xAxes.push(Object.assign({}, base, {position: 'bottom',
    axisLine: {show: true, onZero: false, lineStyle: {color: AX, width: 2.5}},
    axisTick: {show: true, inside: true, length: 10, customValues: xMajor, lineStyle: {color: AX, width: 2}},
    axisLabel: {show: true, customValues: xMajor, formatter: plain, fontFamily: 'Liberation Sans', fontSize: 19, color: AX, margin: 9}}));
  xAxes.push(Object.assign({}, base, {position: 'bottom',
    axisLine: {show: false, onZero: false},
    axisTick: {show: true, inside: true, length: 5, customValues: xMinor, lineStyle: {color: AX, width: 1.5}},
    axisLabel: {show: false}}));
  xAxes.push(Object.assign({}, base, {position: 'top',
    axisLine: {show: true, onZero: false, lineStyle: {color: AX, width: 2.5}},
    axisTick: {show: true, inside: true, length: 10, customValues: xMajor, lineStyle: {color: AX, width: 2}},
    axisLabel: {show: false}}));
  xAxes.push(Object.assign({}, base, {position: 'top',
    axisLine: {show: false, onZero: false},
    axisTick: {show: true, inside: true, length: 5, customValues: xMinor, lineStyle: {color: AX, width: 1.5}},
    axisLabel: {show: false}}));
  const ym = p === 2 ? yMajor3 : yMajor12;
  const ymin = yMinorFor(p);
  const yb = {gridIndex: p, type: 'value', min: 0, max: yMax[p], splitLine: {show: false}};
  yAxes.push(Object.assign({}, yb, {position: 'left',
    axisLine: {show: true, onZero: false, lineStyle: {color: AX, width: 2.5}},
    axisTick: {show: true, inside: true, length: 10, customValues: ym, lineStyle: {color: AX, width: 2}},
    axisLabel: {show: true, customValues: ym, formatter: plain, fontFamily: 'Liberation Sans', fontSize: 19, color: AX, margin: 9}}));
  yAxes.push(Object.assign({}, yb, {position: 'left',
    axisLine: {show: false, onZero: false},
    axisTick: {show: true, inside: true, length: 5, customValues: ymin, lineStyle: {color: AX, width: 1.5}},
    axisLabel: {show: false}}));
  yAxes.push(Object.assign({}, yb, {position: 'right',
    axisLine: {show: true, onZero: false, lineStyle: {color: AX, width: 2.5}},
    axisTick: {show: true, inside: true, length: 10, customValues: ym, lineStyle: {color: AX, width: 2}},
    axisLabel: {show: false}}));
  yAxes.push(Object.assign({}, yb, {position: 'right',
    axisLine: {show: false, onZero: false},
    axisTick: {show: true, inside: true, length: 5, customValues: ymin, lineStyle: {color: AX, width: 1.5}},
    axisLabel: {show: false}}));
});

const series = [];
for (let p = 0; p < 3; p++) {
  const xi = p * 4, yi = p * 4;
  const mlData = dashes[p].map(d => [{coord: [d[0], dashTop[p][d[1] - 1]]}, {coord: [d[0], 0]}]);
  const mpData = ids[p].map(d => ({
    coord: [d[1], idRowY[p][d[2] - 1]],
    label: {show: true, position: 'inside', formatter: d[0], color: '#222', fontFamily: 'Lato', fontSize: 14}
  }));
  mpData.push({
    coord: boxPos[p],
    label: {show: true, position: 'inside',
      formatter: '{b|' + panelTitles[p][0] + '}{n|' + panelTitles[p][1] + '}',
      backgroundColor: '#f1f1f1', borderColor: '#a8a8a8', borderWidth: 1.5, padding: [8, boxPadX[p], 7, boxPadX[p]],
      rich: {b: {fontFamily: 'Lato', fontWeight: 'bold', fontSize: 17.5, color: '#111'},
             n: {fontFamily: 'Lato', fontSize: 17.5, color: '#111'}}}
  });
  series.push({
    type: 'line', xAxisIndex: xi, yAxisIndex: yi, data: [], z: 1, silent: true,
    markLine: {silent: true, symbol: 'none', animation: false, label: {show: false},
      lineStyle: {color: '#c9c9c9', type: [4, 3], width: 1}, emphasis: {disabled: true}, data: mlData},
    markPoint: {silent: true, symbol: 'rect', symbolSize: 1, itemStyle: {color: 'rgba(0,0,0,0)'}, animation: false, data: mpData}
  });
  if (arrows[p]) {
    const a = arrows[p];
    series.push({
      type: 'line', xAxisIndex: xi, yAxisIndex: yi, data: [], z: 5, silent: true,
      markLine: {silent: true, symbol: ['none', 'arrow'], symbolSize: 11, animation: false, label: {show: false},
        lineStyle: {color: '#111', type: 'solid', width: 2}, emphasis: {disabled: true},
        data: [[{coord: [a[0], a[1]]}, {coord: [a[0], a[2]]}]]}
    });
  }
  for (let i = 0; i < 12; i++) {
    const li = i % 3, mi = Math.floor(i / 3);
    const c = colors[li];
    const b = bases[p][i];
    series.push({
      type: 'line', xAxisIndex: xi, yAxisIndex: yi, z: 3,
      showSymbol: false, symbol: 'none', clip: true, animation: false, silent: true,
      lineStyle: {color: c, width: 1.3},
      data: spectra[p][i].map(pt => [pt[0], pt[1] + b]),
      markPoint: {
        silent: true, symbol: 'rect', symbolSize: 1, itemStyle: {color: 'rgba(0,0,0,0)'}, animation: false,
        data: [{
          coord: [labelX, labelY[p][i]],
          label: {show: true, position: 'left', distance: 0,
            formatter: '{i|L}{s|9}{n| = ' + L9[li] + ', }{i|Ṁ}{s|3}{n| = ' + Mdot[mi] + '}',
            rich: {
              i: {fontFamily: 'Liberation Serif', fontStyle: 'italic', fontSize: 22.5, lineHeight: 32, color: c},
              n: {fontFamily: 'Liberation Serif', fontSize: 22.5, lineHeight: 32, color: c},
              s: {fontFamily: 'Liberation Serif', fontSize: 15, lineHeight: 15, verticalAlign: 'bottom', color: c}
            }}
        }]
      }
    });
  }
}

const chart = echarts.init(document.getElementById('c'), null, {renderer: 'canvas'});
chart.setOption({
  backgroundColor: '#ffffff',
  animation: false,
  grid: grids,
  xAxis: xAxes,
  yAxis: yAxes,
  series: series,
  graphic: [
    {type: 'text', x: 16, y: 834, rotation: Math.PI / 2,
      style: {text: 'Normalised Flux + Constant', font: '26px "Liberation Sans"', fill: '#111', align: 'center', verticalAlign: 'middle'}},
    {type: 'text', x: 614, y: 1737,
      style: {text: 'Wavelength (Å)', font: '26px Lato', fill: '#111', align: 'center', verticalAlign: 'middle'}}
  ]
});
</script></body></html>
